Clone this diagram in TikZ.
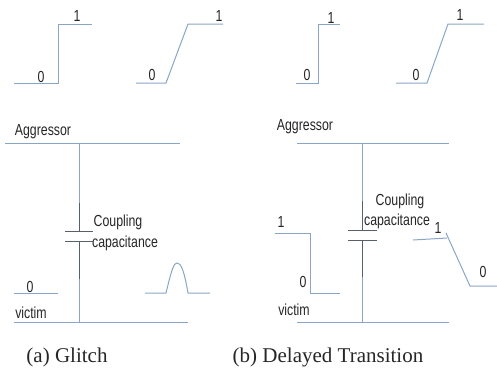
\documentclass[tikz,border=0pt]{standalone}
\usepackage{fontspec}
\setmainfont{Liberation Sans}
\newfontfamily\captionfont{Liberation Serif}
\usepackage{tikz}
\definecolor{wireblue}{HTML}{8AA6C6}
\definecolor{platedark}{HTML}{56616C}
\tikzstyle{wire}=[draw=wireblue,line width=1pt]
\tikzstyle{stem}=[draw=platedark,line width=0.7pt]
\tikzstyle{lab}=[font=\fontsize{16}{18}\selectfont,text=black!85,inner sep=0pt,xscale=0.77]
\tikzstyle{captiontext}=[font=\captionfont\fontsize{21}{24}\selectfont,text=black!85,inner sep=0pt]

\begin{document}
\begin{tikzpicture}[x=1pt,y=-1pt]
        \useasboundingbox (0,0) rectangle (497,368);
        % (a) glitch
        \draw[wire] (14,83) -- (58,83) -- (58,24) -- (92,24);
        \draw[wire] (136,83) -- (166,83) -- (188,24) -- (223,24);
        \node[lab] (a0) at (41,77) {0};
        \node[lab] (a1) at (77,16) {1};
        \node[lab] (b0) at (152,75) {0};
        \node[lab] (b1) at (219,16) {1};
        \node[lab] (aggra) at (43,132) {Aggressor};
        \node[lab] (victa) at (31,313) {victim};
        \node[lab] (v0a) at (30,287) {0};
        \node[lab] (coupa) at (118,222) {Coupling};
        \node[lab] (capa) at (125,243) {capacitance};
        \coordinate (atop) at (79,143);
        \coordinate (abot) at (79,322);
        \coordinate (aup) at (79,231);
        \coordinate (adown) at (79,241);
        \draw[wire] (5,143) -- (180,143);
        \draw[wire] (14,322) -- (188,322);
        \draw[wire] (14,293) -- (58,293);
        \draw[wire] (atop) -- (aup);
        \draw[wire] (adown) -- (abot);
        \draw[stem] (79,203) -- (aup);
        \draw[stem] (adown) -- (79,279);
        \draw[stem] (65,231) -- (93,231);
        \draw[stem] (65,241) -- (93,241);
        \draw[wire] (145,293) -- (166,293) .. controls (172,268) and (174,263) .. (177,263)
            .. controls (181,263) and (184,270) .. (188,293) -- (210,293);
        \node[captiontext] (capta) at (67,357) {(a) Glitch};
        % (b) delayed transition
        \draw[wire] (296,83) -- (318,83) -- (318,24) -- (340,24);
        \draw[wire] (396,83) -- (427,83) -- (448,24) -- (484,24);
        \node[lab] (c0) at (307,75) {0};
        \node[lab] (c1) at (331,18) {1};
        \node[lab] (d0) at (416,75) {0};
        \node[lab] (d1) at (460,15) {1};
        \node[lab] (aggrb) at (305,127) {Aggressor};
        \node[lab] (victb) at (294,310) {victim};
        \node[lab] (v1b) at (281,222) {1};
        \node[lab] (v0b) at (303,282) {0};
        \node[lab] (coupb) at (400,201) {Coupling};
        \node[lab] (capb) at (397,221) {capacitance};
        \node[lab] (o1b) at (438,228) {1};
        \node[lab] (o0b) at (483,272) {0};
        \coordinate (btop) at (362,143);
        \coordinate (bbot) at (362,322);
        \coordinate (bup) at (362,230);
        \coordinate (bdown) at (362,240);
        \draw[wire] (297,143) -- (449,143);
        \draw[wire] (297,322) -- (449,322);
        \draw[wire] (btop) -- (bup);
        \draw[wire] (bdown) -- (bbot);
        \draw[stem] (362,201) -- (bup);
        \draw[stem] (bdown) -- (362,277);
        \draw[stem] (348,230) -- (377,230);
        \draw[stem] (348,240) -- (377,240);
        \draw[wire] (275,233) -- (310,233) -- (310,293) -- (340,293);
        \draw[wire] (413,240) -- (447,238);
        \draw[wire] (446,233) -- (470,286) -- (497,286);
        \node[captiontext] (captb) at (328,357) {(b) Delayed Transition};
\end{tikzpicture}
\end{document}
